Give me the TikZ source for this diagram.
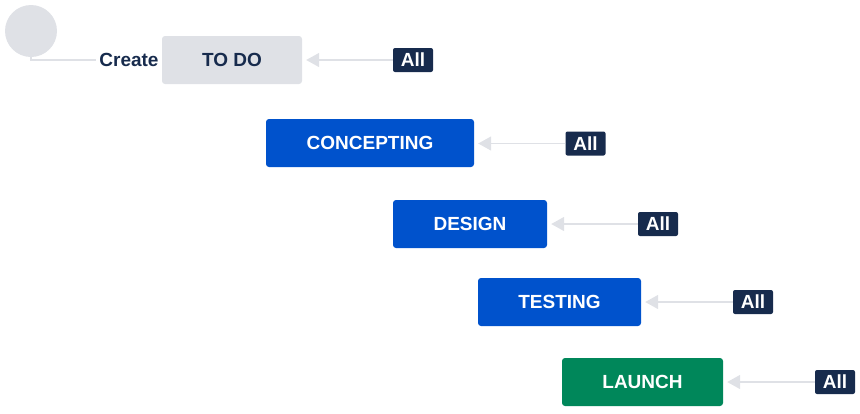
\documentclass[tikz,border=0pt]{standalone}
\usepackage{fontspec}
\setmainfont{Liberation Sans}
\usepackage{tikz}
\usetikzlibrary{arrows.meta}
\definecolor{jblue}{HTML}{0052CC}
\definecolor{jgreen}{HTML}{00875A}
\definecolor{jgray}{HTML}{DFE1E6}
\definecolor{jnavy}{HTML}{172B4D}
\tikzset{
  status/.style={rounded corners=3pt,minimum height=48pt,text=white,
    font=\fontsize{19}{21}\selectfont\bfseries},
  allbox/.style={rounded corners=2pt,fill=jnavy,text=white,minimum width=40pt,
    minimum height=24pt,inner sep=0pt,font=\fontsize{19}{21}\selectfont\bfseries},
  trans/.style={draw=jgray,line width=1.5pt,-{Triangle[length=13pt,width=14pt]},
    shorten >=4pt}
}
\begin{document}
\begin{tikzpicture}[x=1pt,y=-1pt]
\useasboundingbox (0,0) rectangle (860,413);
\node[circle,fill=jgray,minimum size=52pt,inner sep=0pt] (start) at (31,31) {};
\node[text=jnavy,inner sep=3pt,font=\fontsize{19}{21}\selectfont\bfseries] (create) at (129,60) {Create};
\draw[jgray,line width=1.5pt] (start.south) |- (create.west);
%
\node[status,fill=jgray,text=jnavy,minimum width=140pt] (todo) at (232,60) {TO DO};
\node[status,fill=jblue,minimum width=208pt] (concepting) at (370,143) {CONCEPTING};
\node[status,fill=jblue,minimum width=154pt] (design) at (470,224) {DESIGN};
\node[status,fill=jblue,minimum width=163pt] (testing) at (559.5,302) {TESTING};
\node[status,fill=jgreen,minimum width=161pt] (launch) at (642.5,382) {LAUNCH};
%
\node[allbox] (alltodo) at (413,60) {All};
\node[allbox] (allconcepting) at (585.5,143.5) {All};
\node[allbox] (alldesign) at (658,224) {All};
\node[allbox] (alltesting) at (753,302) {All};
\node[allbox] (alllaunch) at (835,382) {All};
%
\draw[trans] (alltodo) -- (todo);
\draw[trans] (allconcepting) -- (concepting.east |- allconcepting);
\draw[trans] (alldesign) -- (design);
\draw[trans] (alltesting) -- (testing);
\draw[trans] (alllaunch) -- (launch);
\end{tikzpicture}
\end{document}
